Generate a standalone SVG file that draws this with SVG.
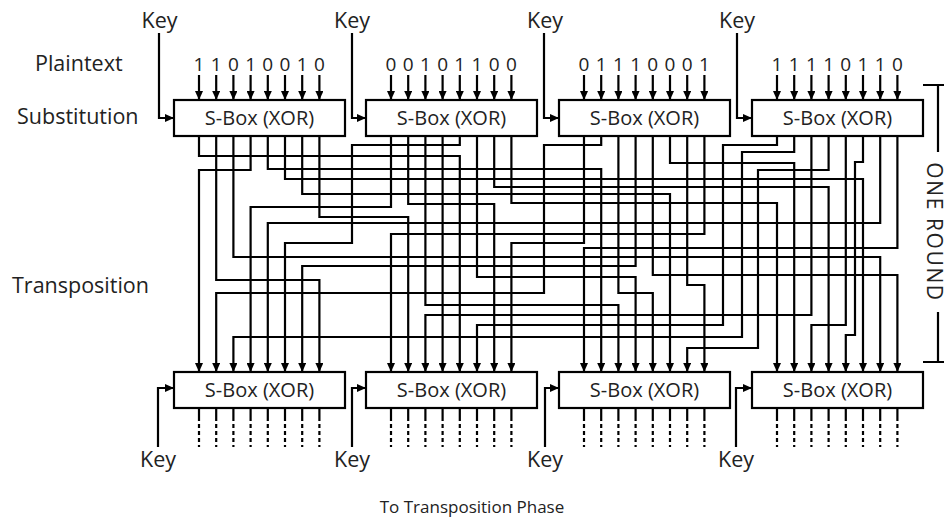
<svg xmlns="http://www.w3.org/2000/svg" width="944" height="520" viewBox="0 0 944 520">
<defs>
<marker id="ah" markerUnits="userSpaceOnUse" markerWidth="9" markerHeight="8" refX="8" refY="4" orient="auto"><path d="M0,0 L9,4 L0,8 z" fill="#000"/></marker>
<style>
.t{font-family:"Open Sans","Noto Sans","Liberation Sans",sans-serif;fill:#222;}
.lbl{font-size:21.5px;}
.dg{font-size:19px;text-anchor:middle;}
.bx{fill:#fff;stroke:#000;stroke-width:2.2;}
.bt{font-size:20px;text-anchor:middle;}
.w{fill:none;stroke:#000;stroke-width:2.2;}
.a{fill:none;stroke:#000;stroke-width:2.2;marker-end:url(#ah);}
.d{fill:none;stroke:#000;stroke-width:2.2;stroke-dasharray:12 3 4 3 4 3 4 3 4 3;}
</style>
</defs>
<rect width="944" height="520" fill="#fff"/>
<g id="labels">
<text class="t lbl" x="35" y="71">Plaintext</text>
<text class="t lbl" x="17" y="124">Substitution</text>
<text class="t lbl" x="12" y="293">Transposition</text>
<text class="t" x="472" y="513" font-size="17" text-anchor="middle">To Transposition Phase</text>
</g>
<g id="connectors">
<path class="a" d="M159,33 V118 H173"/>
<path class="a" d="M352,33 V118 H365"/>
<path class="a" d="M544,33 V118 H558"/>
<path class="a" d="M737,33 V118 H751"/>
<path class="a" d="M158,447 V388 H173"/>
<path class="a" d="M352,447 V388 H365"/>
<path class="a" d="M545,447 V388 H558"/>
<path class="a" d="M736,447 V388 H751"/>
<path class="a" d="M199,137 V156 H459.8 V371"/>
<path class="a" d="M216.2,137 V280 H319.4 V371"/>
<path class="a" d="M233.4,137 V257 H880.2 V371"/>
<path class="a" d="M250.6,137 V170 H199 V371"/>
<path class="a" d="M267.8,137 V169 H601.2 V371"/>
<path class="a" d="M285,137 V179 H863 V371"/>
<path class="a" d="M302.2,137 V194 H670 V371"/>
<path class="a" d="M319.4,137 V217 H408.2 V371"/>
<path class="a" d="M391,137 V207 H250.6 V371"/>
<path class="a" d="M408.2,137 V204 H494.2 V371"/>
<path class="a" d="M425.4,137 V305 H618.4 V371"/>
<path class="a" d="M442.6,137 V371"/>
<path class="a" d="M459.8,137 V145 H352 V243 H285 V371"/>
<path class="a" d="M477,137 V277 H635.6 V371"/>
<path class="a" d="M494.2,137 V187 H828.6 V371"/>
<path class="a" d="M511.4,137 V203 H777 V371"/>
<path class="a" d="M584,137 V243 H511.4 V371"/>
<path class="a" d="M601.2,137 V145 H544 V293 H216.2 V371"/>
<path class="a" d="M618.4,137 V293 H652.8 V371"/>
<path class="a" d="M635.6,137 V266 H302.2 V371"/>
<path class="a" d="M652.8,137 V275 H897.4 V371"/>
<path class="a" d="M670,137 V163 H794.2 V371"/>
<path class="a" d="M687.2,137 V285 H704.4 V371"/>
<path class="a" d="M704.4,137 V234 H391 V371"/>
<path class="a" d="M777,137 V145 H723 V325 H477 V371"/>
<path class="a" d="M794.2,137 V152 H742 V337 H233.4 V371"/>
<path class="a" d="M811.4,137 V315 H425.4 V371"/>
<path class="a" d="M828.6,137 V170 H758 V348 H687.2 V371"/>
<path class="a" d="M845.8,137 V325 H811.4 V371"/>
<path class="a" d="M863,137 V162 H855 V335 H845.8 V371"/>
<path class="a" d="M880.2,137 V223 H267.8 V371"/>
<path class="a" d="M897.4,137 V248 H584 V371"/>
</g>
<g id="box-top-1">
<text class="t lbl" x="159.5" y="28" text-anchor="middle">Key</text>
<g class="t dg"><text x="199" y="70.5">1</text><text x="216.2" y="70.5">1</text><text x="233.4" y="70.5">0</text><text x="250.6" y="70.5">1</text><text x="267.8" y="70.5">0</text><text x="285" y="70.5">0</text><text x="302.2" y="70.5">1</text><text x="319.4" y="70.5">0</text></g>
<path class="a" d="M199,75V99"/><path class="a" d="M216.2,75V99"/><path class="a" d="M233.4,75V99"/><path class="a" d="M250.6,75V99"/><path class="a" d="M267.8,75V99"/><path class="a" d="M285,75V99"/><path class="a" d="M302.2,75V99"/><path class="a" d="M319.4,75V99"/>
<rect class="bx" x="174" y="100" width="171" height="36"/>
<text class="t bt" x="259.5" y="125">S-Box (XOR)</text>
</g>
<g id="box-top-2">
<text class="t lbl" x="352" y="28" text-anchor="middle">Key</text>
<g class="t dg"><text x="391" y="70.5">0</text><text x="408.2" y="70.5">0</text><text x="425.4" y="70.5">1</text><text x="442.6" y="70.5">0</text><text x="459.8" y="70.5">1</text><text x="477" y="70.5">1</text><text x="494.2" y="70.5">0</text><text x="511.4" y="70.5">0</text></g>
<path class="a" d="M391,75V99"/><path class="a" d="M408.2,75V99"/><path class="a" d="M425.4,75V99"/><path class="a" d="M442.6,75V99"/><path class="a" d="M459.8,75V99"/><path class="a" d="M477,75V99"/><path class="a" d="M494.2,75V99"/><path class="a" d="M511.4,75V99"/>
<rect class="bx" x="366" y="100" width="171" height="36"/>
<text class="t bt" x="451.5" y="125">S-Box (XOR)</text>
</g>
<g id="box-top-3">
<text class="t lbl" x="545" y="28" text-anchor="middle">Key</text>
<g class="t dg"><text x="584" y="70.5">0</text><text x="601.2" y="70.5">1</text><text x="618.4" y="70.5">1</text><text x="635.6" y="70.5">1</text><text x="652.8" y="70.5">0</text><text x="670" y="70.5">0</text><text x="687.2" y="70.5">0</text><text x="704.4" y="70.5">1</text></g>
<path class="a" d="M584,75V99"/><path class="a" d="M601.2,75V99"/><path class="a" d="M618.4,75V99"/><path class="a" d="M635.6,75V99"/><path class="a" d="M652.8,75V99"/><path class="a" d="M670,75V99"/><path class="a" d="M687.2,75V99"/><path class="a" d="M704.4,75V99"/>
<rect class="bx" x="559" y="100" width="171" height="36"/>
<text class="t bt" x="644.5" y="125">S-Box (XOR)</text>
</g>
<g id="box-top-4">
<text class="t lbl" x="737" y="28" text-anchor="middle">Key</text>
<g class="t dg"><text x="777" y="70.5">1</text><text x="794.2" y="70.5">1</text><text x="811.4" y="70.5">1</text><text x="828.6" y="70.5">1</text><text x="845.8" y="70.5">0</text><text x="863" y="70.5">1</text><text x="880.2" y="70.5">1</text><text x="897.4" y="70.5">0</text></g>
<path class="a" d="M777,75V99"/><path class="a" d="M794.2,75V99"/><path class="a" d="M811.4,75V99"/><path class="a" d="M828.6,75V99"/><path class="a" d="M845.8,75V99"/><path class="a" d="M863,75V99"/><path class="a" d="M880.2,75V99"/><path class="a" d="M897.4,75V99"/>
<rect class="bx" x="752" y="100" width="171" height="36"/>
<text class="t bt" x="837.5" y="125">S-Box (XOR)</text>
</g>
<g id="box-bottom-1">
<rect class="bx" x="174" y="372" width="171" height="36"/>
<text class="t bt" x="259.5" y="397">S-Box (XOR)</text>
<path class="d" d="M199,409V447M216.2,409V447M233.4,409V447M250.6,409V447M267.8,409V447M285,409V447M302.2,409V447M319.4,409V447"/>
<text class="t lbl" x="158" y="467" text-anchor="middle">Key</text>
</g>
<g id="box-bottom-2">
<rect class="bx" x="366" y="372" width="171" height="36"/>
<text class="t bt" x="451.5" y="397">S-Box (XOR)</text>
<path class="d" d="M391,409V447M408.2,409V447M425.4,409V447M442.6,409V447M459.8,409V447M477,409V447M494.2,409V447M511.4,409V447"/>
<text class="t lbl" x="352" y="467" text-anchor="middle">Key</text>
</g>
<g id="box-bottom-3">
<rect class="bx" x="559" y="372" width="171" height="36"/>
<text class="t bt" x="644.5" y="397">S-Box (XOR)</text>
<path class="d" d="M584,409V447M601.2,409V447M618.4,409V447M635.6,409V447M652.8,409V447M670,409V447M687.2,409V447M704.4,409V447"/>
<text class="t lbl" x="545" y="467" text-anchor="middle">Key</text>
</g>
<g id="box-bottom-4">
<rect class="bx" x="752" y="372" width="171" height="36"/>
<text class="t bt" x="837.5" y="397">S-Box (XOR)</text>
<path class="d" d="M777,409V447M794.2,409V447M811.4,409V447M828.6,409V447M845.8,409V447M863,409V447M880.2,409V447M897.4,409V447"/>
<text class="t lbl" x="736" y="467" text-anchor="middle">Key</text>
</g>
<g id="one-round">
<path class="w" d="M923,85 H944 M938,85 V152 M938,312 V362 M923,362 H944"/>
<text class="t" font-size="21" letter-spacing="1.6" text-anchor="middle" transform="translate(938,232) rotate(90)" x="0" y="11">ONE ROUND</text>
</g>
</svg>
